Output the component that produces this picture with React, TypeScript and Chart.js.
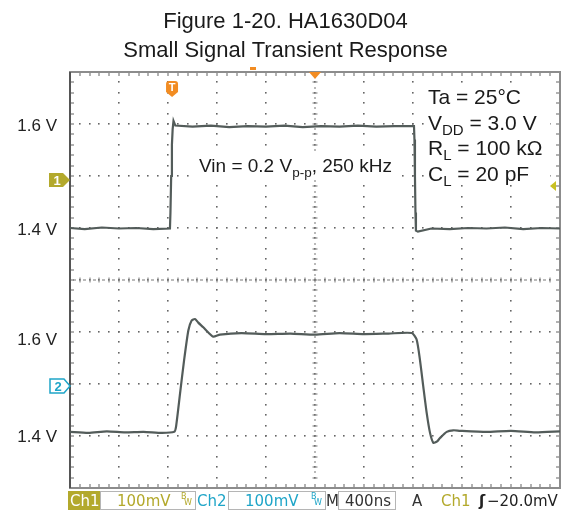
import React, { useEffect, useRef } from "react";
import { Chart, registerables } from "chart.js";

Chart.register(...registerables);

// ---------- data ----------
const titleLines = ["Figure 1-20. HA1630D04", "Small Signal Transient Response"];
const timeRangeNs = [0, 4000]; // 400 ns/div, 10 divisions
const ch1RangeV = [0.9, 1.7]; // 100 mV/div, 8 divisions
const ch2RangeV = [1.3, 2.1];
const triggerTimeNs = 833;

const ch1Time = [0, 120, 260, 400, 540, 680, 816, 820, 826, 832, 838, 845, 860, 1000, 1150, 1300, 1450, 1600, 1750, 1900, 2050, 2200, 2350, 2500, 2650, 2808, 2812, 2816, 2820, 2824, 2840, 2950, 3100, 3250, 3400, 3550, 3700, 3850, 4000];
const ch1Volts = [1.4, 1.398, 1.401, 1.399, 1.4, 1.398, 1.399, 1.43, 1.5, 1.56, 1.59, 1.606, 1.597, 1.595, 1.597, 1.594, 1.596, 1.595, 1.597, 1.594, 1.596, 1.595, 1.597, 1.595, 1.596, 1.596, 1.57, 1.5, 1.43, 1.395, 1.393, 1.399, 1.398, 1.4, 1.399, 1.401, 1.398, 1.4, 1.399];

const ch2Time = [0, 150, 300, 450, 600, 750, 851, 865, 898, 931, 966, 993, 1020, 1047, 1088, 1129, 1170, 1224, 1400, 1600, 1800, 2000, 2200, 2400, 2600, 2790, 2830, 2857, 2884, 2912, 2939, 2966, 2994, 3020, 3075, 3129, 3184, 3400, 3600, 3800, 4000];
const ch2Volts = [1.408, 1.406, 1.409, 1.407, 1.408, 1.406, 1.408, 1.417, 1.481, 1.545, 1.603, 1.622, 1.625, 1.618, 1.609, 1.599, 1.591, 1.595, 1.598, 1.596, 1.597, 1.595, 1.598, 1.596, 1.597, 1.598, 1.585, 1.546, 1.495, 1.444, 1.406, 1.387, 1.389, 1.396, 1.408, 1.411, 1.41, 1.408, 1.41, 1.407, 1.409];

const ch1LabelValues = [1.6, 1.4];
const ch2LabelValues = [1.6, 1.4];

const vinText = [
  { t: "Vin = 0.2 V" },
  { t: "p-p", sub: true },
  { t: ", 250 kHz" },
];
const conditionLines = [
  [{ t: "Ta = 25\u00B0C" }],
  [{ t: "V" }, { t: "DD", sub: true }, { t: " = 3.0 V" }],
  [{ t: "R" }, { t: "L", sub: true }, { t: " = 100 k\u03A9" }],
  [{ t: "C" }, { t: "L", sub: true }, { t: " = 20 pF" }],
];

const statusItems = {
  ch1Scale: "100mV",
  ch2Scale: "100mV",
  timebase: "400ns",
  trigSource: "Ch1",
  trigLevel: "\u221220.0mV",
};

// ---------- styles ----------
const SANS = '"Liberation Sans", Arial, sans-serif';
const SCOPE = '"DejaVu Sans", sans-serif';
const OLIVE = "#b3a92c";
const CYAN = "#1fa5c8";
const ORANGE = "#f28c22";
const TRACE = "#535c5a";

type Seg = { t: string; sub?: boolean };

function drawRich(ctx: CanvasRenderingContext2D, segs: Seg[], x: number, y: number, size: number, subSize: number, subDrop: number) {
  let cx = x;
  for (const s of segs) {
    ctx.font = `${s.sub ? subSize : size}px ${SANS}`;
    ctx.fillText(s.t, cx, s.sub ? y + subDrop : y);
    cx += ctx.measureText(s.t).width;
  }
}

const graticulePlugin = {
  id: "graticule",
  beforeDatasetsDraw(chart: any) {
    const ctx: CanvasRenderingContext2D = chart.ctx;
    const { left, right, top, bottom } = chart.chartArea;
    const dx = (right - left) / 10;
    const dy = (bottom - top) / 8;
    const cx = left + 5 * dx;
    const cy = top + 4 * dy;
    ctx.save();
    ctx.fillStyle = "#666";
    for (let i = 1; i < 10; i++) {
      const x = left + i * dx;
      for (let j = 1; j < 40; j++) {
        const y = top + (j * dy) / 5;
        ctx.fillRect(Math.round(x) - 1, Math.round(y) - 1, 1.6, 1.6);
      }
    }
    for (let j = 1; j < 8; j++) {
      const y = top + j * dy;
      for (let i = 1; i < 50; i++) {
        const x = left + (i * dx) / 5;
        ctx.fillRect(Math.round(x) - 1, Math.round(y) - 1, 1.6, 1.6);
      }
    }
    ctx.fillStyle = "#777";
    for (let i = 1; i < 50; i++) {
      const x = left + (i * dx) / 5;
      ctx.fillRect(Math.round(x) - 0.5, cy - 2.5, 1, 5);
      ctx.fillRect(Math.round(x - dx / 10) - 2, cy - 0.5, 3, 1);
    }
    for (let j = 1; j < 40; j++) {
      const y = top + (j * dy) / 5;
      ctx.fillRect(cx - 2.5, Math.round(y) - 0.5, 5, 1);
      ctx.fillRect(cx - 0.5, Math.round(y - dy / 10) - 1, 1, 2);
    }
    ctx.fillStyle = "#666";
    for (let i = 1; i < 50; i++) {
      const x = left + (i * dx) / 5;
      ctx.fillRect(Math.round(x) - 0.5, top, 1, 4);
      ctx.fillRect(Math.round(x) - 0.5, bottom - 4, 1, 4);
    }
    for (let j = 1; j < 40; j++) {
      const y = top + (j * dy) / 5;
      ctx.fillRect(left, Math.round(y) - 0.5, 4, 1);
      ctx.fillRect(right - 4, Math.round(y) - 0.5, 4, 1);
    }
    ctx.strokeStyle = "#8c8c8c";
    ctx.lineWidth = 2;
    ctx.strokeRect(left, top, right - left, bottom - top);
    ctx.fillStyle = "#555";
    ctx.fillRect(left - 1, top, 2, bottom - top);

    // white backgrounds behind the annotation blocks
    ctx.fillStyle = "#fff";
    ctx.fillRect(195, 152, 204, 28);
    ctx.fillRect(424, 84, 126, 100);
    ctx.restore();
  },
};

const overlayPlugin = {
  id: "overlay",
  afterDraw(chart: any) {
    const ctx: CanvasRenderingContext2D = chart.ctx;
    const { left, right, top, bottom } = chart.chartArea;
    const xs = chart.scales.x;
    const y1 = chart.scales.y;
    const y2 = chart.scales.y2;
    const W = chart.width;
    ctx.save();

    ctx.fillStyle = "#1a1a1a";
    ctx.textAlign = "center";
    ctx.textBaseline = "alphabetic";
    ctx.font = `22px ${SANS}`;
    ctx.fillText(titleLines[0], W / 2, 28);
    ctx.fillText(titleLines[1], W / 2, 57);

    ctx.textAlign = "right";
    ctx.textBaseline = "middle";
    ctx.font = `17px ${SANS}`;
    ctx.fillStyle = "#222";
    ch1LabelValues.forEach((v) => ctx.fillText(v.toFixed(1) + " V", 57, y1.getPixelForValue(v) + 2));
    ch2LabelValues.forEach((v, i) => ctx.fillText(v.toFixed(1) + " V", 57, y2.getPixelForValue(v) + (i === 0 ? 8 : 1)));

    ctx.textAlign = "left";
    ctx.textBaseline = "alphabetic";
    ctx.fillStyle = "#1a1a1a";
    drawRich(ctx, vinText as Seg[], 199, 172, 19, 13.5, 5);
    conditionLines.forEach((line, i) => drawRich(ctx, line as Seg[], 428, 104 + i * 25.5, 21, 15, 5));

    const tx = xs.getPixelForValue(triggerTimeNs);
    ctx.fillStyle = ORANGE;
    ctx.beginPath();
    ctx.moveTo(tx - 6, 84);
    ctx.quadraticCurveTo(tx - 6, 81, tx - 3, 81);
    ctx.lineTo(tx + 3, 81);
    ctx.quadraticCurveTo(tx + 6, 81, tx + 6, 84);
    ctx.lineTo(tx + 6, 92);
    ctx.lineTo(tx, 97);
    ctx.lineTo(tx - 6, 92);
    ctx.closePath();
    ctx.fill();
    ctx.fillStyle = "#fff";
    ctx.font = `bold 11px ${SANS}`;
    ctx.textAlign = "center";
    ctx.textBaseline = "middle";
    ctx.fillText("T", tx, 88);

    const mx = (left + right) / 2;
    ctx.fillStyle = ORANGE;
    ctx.beginPath();
    ctx.moveTo(mx - 6, top);
    ctx.lineTo(mx + 6, top);
    ctx.lineTo(mx, top + 7);
    ctx.closePath();
    ctx.fill();
    ctx.fillRect(250, top - 5, 6, 3);

    const c1y = 180;
    ctx.fillStyle = OLIVE;
    ctx.beginPath();
    ctx.moveTo(49, c1y - 7);
    ctx.lineTo(63, c1y - 7);
    ctx.lineTo(70, c1y);
    ctx.lineTo(63, c1y + 7);
    ctx.lineTo(49, c1y + 7);
    ctx.closePath();
    ctx.fill();
    ctx.fillStyle = "#fff";
    ctx.font = `bold 13px ${SANS}`;
    ctx.fillText("1", 57, c1y + 1);

    const c2y = 386;
    ctx.fillStyle = "#fff";
    ctx.strokeStyle = CYAN;
    ctx.lineWidth = 1.5;
    ctx.beginPath();
    ctx.moveTo(50, c2y - 7);
    ctx.lineTo(64, c2y - 7);
    ctx.lineTo(70, c2y);
    ctx.lineTo(64, c2y + 7);
    ctx.lineTo(50, c2y + 7);
    ctx.closePath();
    ctx.fill();
    ctx.stroke();
    ctx.fillStyle = CYAN;
    ctx.fillText("2", 58, c2y + 1);

    ctx.fillStyle = "#c9c022";
    ctx.beginPath();
    ctx.moveTo(right - 10, 186);
    ctx.lineTo(right - 4, 181);
    ctx.lineTo(right - 4, 191);
    ctx.closePath();
    ctx.fill();

    const sy = bottom + 3;
    const sh = 19;
    const base = sy + 15;
    ctx.textAlign = "left";
    ctx.textBaseline = "alphabetic";
    ctx.fillStyle = OLIVE;
    ctx.fillRect(68, sy, 32, sh);
    ctx.strokeStyle = "#b5b5b5";
    ctx.lineWidth = 1;
    ctx.strokeRect(100.5, sy + 0.5, 95, sh - 1);
    ctx.strokeRect(228.5, sy + 0.5, 97, sh - 1);
    ctx.strokeRect(338.5, sy + 0.5, 57, sh - 1);
    ctx.font = `15px ${SCOPE}`;
    ctx.fillStyle = "#fff";
    ctx.fillText("Ch1", 70, base);
    ctx.fillStyle = OLIVE;
    ctx.fillText(statusItems.ch1Scale, 117, base);
    ctx.fillStyle = CYAN;
    ctx.fillText("Ch2", 197, base);
    ctx.fillText(statusItems.ch2Scale, 245, base);
    ctx.fillStyle = "#333";
    ctx.fillText("M", 326, base);
    ctx.fillText(statusItems.timebase, 345, base);
    ctx.fillText("A", 412, base);
    ctx.fillStyle = OLIVE;
    ctx.fillText(statusItems.trigSource, 441, base);
    ctx.fillStyle = "#222";
    ctx.font = `bold 15px ${SCOPE}`;
    ctx.fillText("\u0283", 479, base);
    ctx.font = `15px ${SCOPE}`;
    ctx.fillText(statusItems.trigLevel, 487, base);
    ctx.font = `8px ${SCOPE}`;
    ctx.fillStyle = OLIVE;
    ctx.fillText("B", 181, sy + 8);
    ctx.fillText("W", 184, sy + 14);
    ctx.fillStyle = CYAN;
    ctx.fillText("B", 311, sy + 8);
    ctx.fillText("W", 314, sy + 14);

    ctx.restore();
  },
};

export default function App() {
  const ref = useRef<HTMLCanvasElement | null>(null);
  useEffect(() => {
    if (!ref.current) return;
    const chart = new Chart(ref.current, {
      type: "line",
      data: {
        datasets: [
          {
            label: "Ch1",
            data: ch1Time.map((t, i) => ({ x: t, y: ch1Volts[i] })),
            yAxisID: "y",
            borderColor: TRACE,
            borderWidth: 2.2,
            pointRadius: 0,
            tension: 0,
          },
          {
            label: "Ch2",
            data: ch2Time.map((t, i) => ({ x: t, y: ch2Volts[i] })),
            yAxisID: "y2",
            borderColor: TRACE,
            borderWidth: 2.2,
            pointRadius: 0,
            tension: 0.2,
          },
        ],
      },
      options: {
        responsive: false,
        animation: false,
        devicePixelRatio: 1,
        layout: { padding: { left: 70, right: 11, top: 72, bottom: 24 } },
        plugins: { legend: { display: false }, tooltip: { enabled: false }, title: { display: false } },
        scales: {
          x: { type: "linear", min: timeRangeNs[0], max: timeRangeNs[1], display: false },
          y: { type: "linear", min: ch1RangeV[0], max: ch1RangeV[1], display: false },
          y2: { type: "linear", min: ch2RangeV[0], max: ch2RangeV[1], display: false },
        },
      },
      plugins: [graticulePlugin, overlayPlugin],
    });
    return () => chart.destroy();
  }, []);
  return (
    <div style={{ position: "absolute", left: 0, top: 0, width: 571, height: 512, background: "#fff" }}>
      <canvas ref={ref} width={571} height={512} />
    </div>
  );
}
